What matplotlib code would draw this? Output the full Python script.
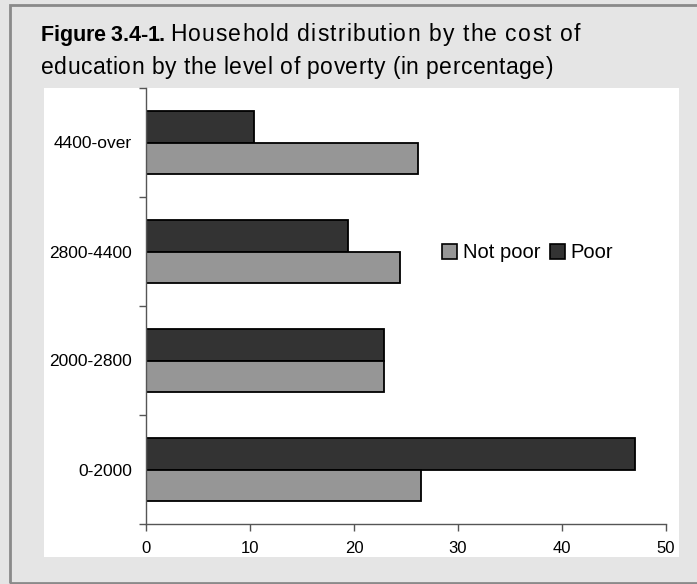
import matplotlib.pyplot as plt
import numpy as np
from matplotlib.patches import Rectangle, Patch
from matplotlib.font_manager import FontProperties

plt.rcParams['font.family'] = ['Liberation Sans', 'DejaVu Sans']

# household share by education cost bracket (%)
categories = ['0-2000', '2000-2800', '2800-4400', '4400-over']
not_poor = [26.4, 22.9, 24.4, 26.2]
poor = [47.0, 22.9, 19.4, 10.4]

W, H = 697, 584
fig = plt.figure(figsize=(W / 100, H / 100), dpi=100)
fig.patch.set_facecolor('#e5e5e5')
renderer = fig.canvas.get_renderer()

def px(x0, y0, x1, y1):
    # pixel box (top-left origin) -> figure fraction rect
    return [x0 / W, 1 - y1 / H, (x1 - x0) / W, (y1 - y0) / H]

def spaced_text(x, y, s, x_end, size, weight='normal'):
    # letter-spaced line of text running from x to x_end (pixels), baseline y
    prop = FontProperties(family='Liberation Sans', size=size, weight=weight)

    def wid(t):
        return renderer.get_text_width_height_descent('|' + t + '|', prop,
                                                      ismath=False)[0]
    base = wid('')
    adv = [wid(s[:i]) - base for i in range(len(s) + 1)]
    gap = (x_end - x - adv[-1]) / (len(s) - 1)
    for i, ch in enumerate(s):
        if ch != ' ':
            fig.text((x + adv[i] + i * gap) / W, 1 - y / H, ch,
                     fontproperties=prop, va='baseline', ha='left')

# frame around the panel
fig.add_artist(Rectangle((9.5 / W, 1 - 582.5 / H), 2, (582.5 - 5) / H,
                         transform=fig.transFigure, facecolor='none',
                         edgecolor='#8a8a8a', linewidth=2, zorder=-2))
# white chart area
x0, y0, w0, h0 = px(44, 88, 679, 557)
fig.add_artist(Rectangle((x0, y0), w0, h0, transform=fig.transFigure,
                         facecolor='white', edgecolor='none', zorder=-1))

# title
spaced_text(41, 41, 'Figure 3.4-1.', 165, 15.5, weight='bold')
spaced_text(170, 41, 'Household distribution by the cost of', 580, 16.5)
spaced_text(41, 74, 'education by the level of poverty (in percentage)', 553, 16.5)

ax = fig.add_axes(px(146, 88, 666, 524))
ax.set_facecolor('none')
ax.set_zorder(1)

y = np.arange(len(categories))
h = 0.29
ax.barh(y + h / 2, poor, height=h, color='#333333', edgecolor='black',
        linewidth=1.3, label='Poor')
ax.barh(y - h / 2, not_poor, height=h, color='#969696', edgecolor='black',
        linewidth=1.3, label='Not poor')

ax.set_xlim(0, 50)
ax.set_ylim(-0.5, len(categories) - 0.5)
ax.set_xticks(range(0, 51, 10))
ax.set_yticks(np.arange(-0.5, len(categories), 1.0))
ax.set_yticklabels([])
ax.set_yticks(y, minor=True)
ax.set_yticklabels(categories, minor=True)
ax.tick_params(axis='y', which='minor', length=0, pad=10, labelsize=12.5)
ax.tick_params(axis='y', which='major', length=5, width=1, color='#555555')
ax.tick_params(axis='x', length=5, width=1, color='#555555', pad=7,
               labelsize=12)

for s in ['top', 'right']:
    ax.spines[s].set_visible(False)
for s in ['left', 'bottom']:
    ax.spines[s].set_color('#555555')
    ax.spines[s].set_linewidth(1)

handles = [Patch(facecolor='#969696', edgecolor='black', linewidth=1.2),
           Patch(facecolor='#333333', edgecolor='black', linewidth=1.2)]
fig.legend(handles, ['Not poor', 'Poor'], loc='center left',
           bbox_to_anchor=(442 / W, 1 - 253 / H), ncol=2, frameon=False,
           fontsize=14.5, handlelength=0.75, handleheight=0.75,
           handletextpad=0.3, columnspacing=0.45, borderpad=0, borderaxespad=0)

fig.savefig('out.png', dpi=100, facecolor=fig.get_facecolor())
